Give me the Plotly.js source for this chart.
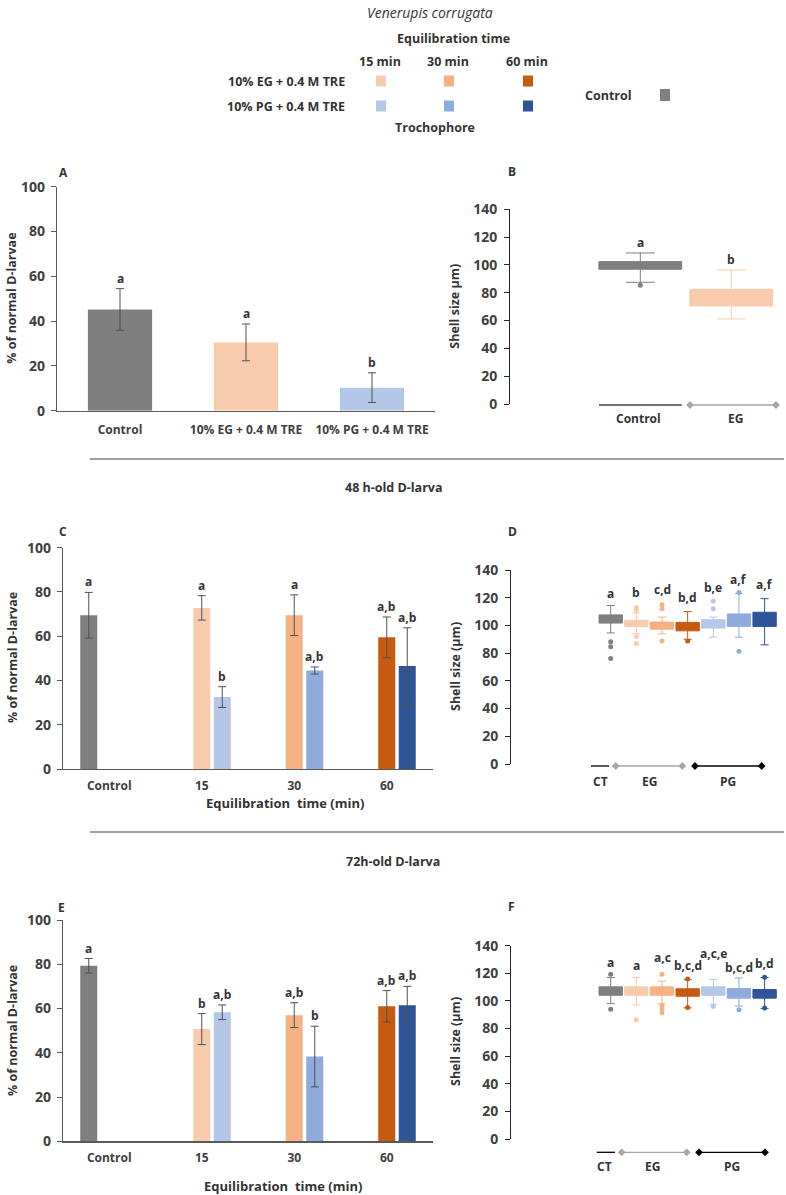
<!DOCTYPE html>
<html><head><meta charset="utf-8">
<script src="https://cdn.plot.ly/plotly-3.0.1.min.js"></script>
<style>html,body{margin:0;padding:0;background:#fff;}#chart{width:786px;height:1195px;}</style>
</head><body><div id="chart"></div>
<script>
// ================= DATA =================
// Panel A – trochophore, % normal D-larvae
const trochoCats = ['Control', '10% EG + 0.4 M TRE', '10% PG + 0.4 M TRE'];
const trochoMean = [45.2, 30.5, 10.3];
const trochoErr = [9.3, 8.2, 6.6];
const trochoLetters = ['a', 'a', 'b'];

// Panels C / E – categories
const timeCats = ['Control', '15', '30', '60'];
const eqTimes = ['15', '30', '60'];

// Panel C – 48 h-old D-larva
const d48ControlMean = [69.5];
const d48ControlErr = [10.3];
const d48ControlLetters = ['a'];
const d48EGMean = [72.8, 69.5, 59.5];
const d48EGErr = [5.5, 9.2, 9.2];
const d48EGLetters = ['a', 'a', 'a,b'];
const d48PGMean = [32.5, 44.5, 46.5];
const d48PGErr = [4.7, 1.6, 17.3];
const d48PGLetters = ['b', 'a,b', 'a,b'];

// Panel E – 72 h-old D-larva
const d72ControlMean = [79.3];
const d72ControlErr = [3.3];
const d72ControlLetters = ['a'];
const d72EGMean = [50.7, 57.0, 61.0];
const d72EGErr = [7.0, 5.6, 7.1];
const d72EGLetters = ['b', 'a,b', 'a,b'];
const d72PGMean = [58.3, 38.3, 61.5];
const d72PGErr = [3.3, 13.7, 8.5];
const d72PGLetters = ['a,b', 'b', 'a,b'];

// Panel B – trochophore shell size (µm)
const shellBGroups = ['Control', 'EG'];
const shellBQ1 = [96.9, 70.5];
const shellBQ3 = [102.4, 82.5];
const shellBLow = [87.5, 61.2];
const shellBUp = [108.6, 96.4];
const shellBOut = [[85.4], []];
const shellBLetters = ['a', 'b'];

// Panel D – 48 h shell size (µm)
const shellGroups = ['CT', 'EG 15', 'EG 30', 'EG 60', 'PG 15', 'PG 30', 'PG 60'];
const shellDQ1 = [101.7, 99.3, 97.3, 96.1, 98.1, 99.3, 99.3];
const shellDQ3 = [107.6, 103.7, 102.4, 102.2, 104.1, 108.3, 109.5];
const shellDLow = [94.6, 94.0, 93.9, 90.0, 91.5, 91.5, 86.0];
const shellDUp = [114.4, 109.0, 106.0, 110.0, 106.0, 123.0, 119.3];
const shellDOut = [[88.3, 84.6, 76.1], [113, 111, 92, 87], [115, 112, 88.7], [88.8], [117.6, 112], [123.7, 81.3], []];
const shellDLetters = ['a', 'b', 'c,d', 'b,d', 'b,e', 'a,f', 'a,f'];

// Panel F – 72 h shell size (µm)
const shellFQ1 = [104.1, 104.1, 104.1, 103.4, 104.1, 102.0, 102.0];
const shellFQ3 = [110.2, 110.2, 110.2, 108.8, 110.2, 109.0, 108.3];
const shellFLow = [98.0, 97.0, 98.0, 95.0, 97.6, 96.3, 94.6];
const shellFUp = [117.0, 117.0, 114.4, 115.6, 115.6, 116.6, 117.0];
const shellFOut = [[119.3, 94.0], [86.3], [119.3, 96.5, 94.0, 91.5], [115.8, 95.2], [96.0], [93.7], [117.2, 94.8]];
const shellFLetters = ['a', 'a', 'a,c', 'b,c,d', 'a,c,e', 'b,c,d', 'b,d'];

// ================= STYLE =================
const W = 786, H = 1195;
const GRAY = '#7f7f7f';
const EG_COL = ['#f8cbad', '#f4b183', '#c55a11'];
const PG_COL = ['#b4c7e7', '#8faadc', '#2f5597'];
const BOX_COL = [GRAY].concat(EG_COL, PG_COL);
const FONT = 'Open Sans, sans-serif';
const TXT = '#333333';
const px = v => v / W;
const py = v => 1 - v / H;
// pixel lift of significance letters (placement style, as in the original figure)
const liftB = [0, 0];
const liftD = [1, 4, 5, 4, 3, 3, 4];
const liftF = [1, 1, 6, 3, 15, 0, 3];

const traces = [];
const ann = [];
const shapes = [];

function errObj(arr) {
  return {type: 'data', array: arr, visible: true, color: '#505050', thickness: 1, width: 4};
}
function letterAnn(x, y, text, xa, ya, shift) {
  ann.push({x: x, y: y, xref: xa, yref: ya, text: text, showarrow: false, yanchor: 'bottom',
    yshift: shift || 0, font: {family: FONT, size: 12, color: TXT, weight: 'bold'}});
}

// ----- Panel A -----
traces.push({type: 'bar', x: trochoCats, y: trochoMean, error_y: errObj(trochoErr),
  marker: {color: [GRAY, EG_COL[0], PG_COL[0]]}, width: 0.51, xaxis: 'x', yaxis: 'y', hoverinfo: 'skip'});
trochoMean.forEach((m, i) => letterAnn(i, m + trochoErr[i], trochoLetters[i], 'x', 'y', 0));

// ----- Panels C & E (grouped bars) -----
const BARGAP = 0.335, GROUPGAP = 0.17;
const slot = (1 - BARGAP) / 3;
function groupedPanel(cm, ce, cl, em, ee, el, pm, pe, pl, xa, ya) {
  traces.push({type: 'bar', x: ['Control'], y: cm, error_y: errObj(ce), marker: {color: GRAY},
    xaxis: xa, yaxis: ya, hoverinfo: 'skip'});
  traces.push({type: 'bar', x: eqTimes, y: em, error_y: errObj(ee), marker: {color: EG_COL},
    xaxis: xa, yaxis: ya, hoverinfo: 'skip'});
  traces.push({type: 'bar', x: eqTimes, y: pm, error_y: errObj(pe), marker: {color: PG_COL},
    xaxis: xa, yaxis: ya, hoverinfo: 'skip'});
  letterAnn(0 - slot, cm[0] + ce[0], cl[0], xa, ya, 0);
  eqTimes.forEach((t, i) => {
    letterAnn(i + 1, em[i] + ee[i], el[i], xa, ya, 0);
    letterAnn(i + 1 + slot, pm[i] + pe[i], pl[i], xa, ya, 0);
  });
}
groupedPanel(d48ControlMean, d48ControlErr, d48ControlLetters, d48EGMean, d48EGErr, d48EGLetters,
  d48PGMean, d48PGErr, d48PGLetters, 'x3', 'y3');
groupedPanel(d72ControlMean, d72ControlErr, d72ControlLetters, d72EGMean, d72EGErr, d72EGLetters,
  d72PGMean, d72PGErr, d72PGLetters, 'x5', 'y5');

// ----- Box panels B, D, F -----
function boxPanel(q1, q3, lo, up, outl, letters, lift, colors, xa, ya) {
  for (let i = 0; i < q1.length; i++) {
    traces.push({type: 'box', x: [i], q1: [q1[i]], q3: [q3[i]], median: [(q1[i] + q3[i]) / 2],
      lowerfence: [lo[i]], upperfence: [up[i]], width: 0.91, whiskerwidth: 0.35,
      fillcolor: colors[i], line: {color: colors[i], width: 1}, boxpoints: false,
      xaxis: xa, yaxis: ya, hoverinfo: 'skip'});
    if (outl[i].length) {
      traces.push({type: 'scatter', mode: 'markers', x: outl[i].map(() => i), y: outl[i],
        marker: {color: colors[i], size: 5}, xaxis: xa, yaxis: ya, cliponaxis: false, hoverinfo: 'skip'});
    }
    const top = Math.max(up[i], ...outl[i]);
    letterAnn(i, top, letters[i], xa, ya, lift[i]);
  }
}
boxPanel(shellBQ1, shellBQ3, shellBLow, shellBUp, shellBOut, shellBLetters, liftB, [GRAY, EG_COL[0]], 'x2', 'y2');
boxPanel(shellDQ1, shellDQ3, shellDLow, shellDUp, shellDOut, shellDLetters, liftD, BOX_COL, 'x4', 'y4');
boxPanel(shellFQ1, shellFQ3, shellFLow, shellFUp, shellFOut, shellFLetters, liftF, BOX_COL, 'x6', 'y6');

// ----- Page-level decorations on an overlay pixel axis (x7/y7) -----
function txt(x, y, text, opt) {
  opt = opt || {};
  ann.push({x: x, y: y, xref: 'x7', yref: 'y7', text: text, showarrow: false,
    xanchor: opt.xanchor || 'center', yanchor: 'middle', textangle: opt.angle || 0,
    font: {family: FONT, size: opt.size || 12, color: opt.color || TXT,
      weight: opt.weight || 'bold', style: opt.style || 'normal'}});
}
function rect(cx, cy, w, h, color) {
  shapes.push({type: 'rect', xref: 'x7', yref: 'y7', x0: cx - w / 2, x1: cx + w / 2, y0: cy - h / 2, y1: cy + h / 2,
    fillcolor: color, line: {width: 0}});
}
function hline(x0, x1, y, color, w) {
  shapes.push({type: 'line', xref: 'x7', yref: 'y7', x0: x0, x1: x1, y0: y, y1: y, line: {color: color, width: w || 1}});
}
function groupLine(x0, x1, y, color, diamonds) {
  traces.push({type: 'scatter', mode: diamonds ? 'lines+markers' : 'lines', x: [x0, x1], y: [y, y],
    line: {color: color, width: 1.3}, marker: {symbol: 'diamond', size: 6, color: color},
    xaxis: 'x7', yaxis: 'y7', hoverinfo: 'skip', cliponaxis: false});
}

// header
txt(430, 12, 'Venerupis corrugata', {style: 'italic', weight: 'normal', size: 14});
txt(453, 38, 'Equilibration time', {size: 12.5});
txt(380, 61, '15 min', {size: 12.5});
txt(448, 61, '30 min', {size: 12.5});
txt(527, 61, '60 min', {size: 12.5});
txt(347, 81, '10% EG + 0.4 M TRE', {xanchor: 'right', size: 12.5});
txt(347, 106, '10% PG + 0.4 M TRE', {xanchor: 'right', size: 12.5});
[381, 449, 528].forEach((x, i) => { rect(x, 81, 10, 11, EG_COL[i]); rect(x, 106, 10, 11, PG_COL[i]); });
txt(608, 95, 'Control', {size: 12.5});
rect(665, 95, 10, 12, GRAY);
txt(435, 127, 'Trochophore', {size: 12.5});

// panel letters
txt(63, 172, 'A'); txt(512, 171, 'B'); txt(63, 531, 'C'); txt(512, 531, 'D'); txt(61, 907, 'E'); txt(511, 906, 'F');

// separators & section titles
hline(90, 784, 459, '#404040', 1.2);
hline(90, 784, 832, '#404040', 1.2);
txt(393, 487, '48 h-old D-larva', {size: 12.5});
txt(393, 861, '72h-old D-larva', {size: 12.5});

// axis titles
txt(12, 298.7, '% of normal D-larvae', {angle: -90, size: 12.5});
txt(12, 658, '% of normal D-larvae', {angle: -90, size: 12.5});
txt(12, 1031, '% of normal D-larvae', {angle: -90, size: 12.5});
txt(455, 306.7, 'Shell size µm)', {angle: -90, size: 12.5});
txt(455, 667, 'Shell size (µm)', {angle: -90, size: 12.5});
txt(455, 1042, 'Shell size (µm)', {angle: -90, size: 12.5});
txt(285, 803, 'Equilibration  time (min)', {size: 13});
txt(283, 1186, 'Equilibration  time (min)', {size: 13});

// group lines under box panels
groupLine(599, 681.7, 405, '#404040', false);
groupLine(690, 776, 405, '#a6a6a6', true);
txt(638, 418, 'Control'); txt(735, 418, 'EG');
groupLine(591, 609, 766, '#000000', false);
groupLine(615.7, 682.3, 766, '#a6a6a6', true);
groupLine(695, 761.7, 766, '#000000', true);
txt(600, 781, 'CT'); txt(649, 781, 'EG'); txt(728, 781, 'PG');
groupLine(596.7, 615, 1152.3, '#000000', false);
groupLine(621.7, 686.7, 1152.3, '#a6a6a6', true);
groupLine(699, 765, 1152.3, '#000000', true);
txt(604, 1166, 'CT'); txt(652.7, 1166, 'EG'); txt(731.7, 1166, 'PG');

// ================= AXES =================
const tickFontY = {family: FONT, size: 14, color: '#404040', weight: 'bold'};
const tickFontX = {family: FONT, size: 12, color: '#404040', weight: 'bold'};
function pctY(top, bottom, anchor) {
  return {domain: [py(bottom), py(top)], anchor: anchor, range: [0, 100], tickvals: [0, 20, 40, 60, 80, 100],
    ticks: 'outside', ticklen: 5, tickcolor: '#595959', showline: true, linecolor: '#595959', linewidth: 1.3,
    showgrid: false, zeroline: false, tickfont: tickFontY, ticklabelstandoff: 3, fixedrange: true};
}
function catX(left, right, anchor, cats, standoff) {
  return {domain: [px(left), px(right)], anchor: anchor, type: 'category', categoryorder: 'array',
    categoryarray: cats, range: [-0.5, cats.length - 0.5], ticks: '', showline: true, linecolor: '#595959',
    linewidth: 1.3, showgrid: false, zeroline: false, tickfont: tickFontX, ticklabelstandoff: standoff, fixedrange: true};
}
function shellY(top, bottom, anchor) {
  return {domain: [py(bottom), py(top)], anchor: anchor, range: [0, 140], tickvals: [0, 20, 40, 60, 80, 100, 120, 140],
    ticks: 'outside', ticklen: 5, tickcolor: '#262626', showline: true, linecolor: '#262626', linewidth: 1,
    showgrid: false, zeroline: false, tickfont: tickFontY, ticklabelstandoff: 4, fixedrange: true};
}
function boxX(left, right, anchor, firstCenter, step) {
  return {domain: [px(left), px(right)], anchor: anchor, range: [-(firstCenter - left) / step, (right - firstCenter) / step],
    visible: false, showgrid: false, zeroline: false, fixedrange: true};
}

const layout = {
  width: W, height: H, margin: {l: 0, r: 0, t: 0, b: 0}, paper_bgcolor: '#ffffff', plot_bgcolor: 'rgba(0,0,0,0)',
  showlegend: false, barmode: 'group', bargap: BARGAP, bargroupgap: GROUPGAP, boxmode: 'overlay',
  font: {family: FONT, color: TXT},
  xaxis: catX(57, 435, 'y', trochoCats, 8),
  yaxis: pctY(186.7, 410.7, 'x'),
  xaxis2: boxX(510, 780, 'y2', 640.3, 91),
  yaxis2: shellY(209.3, 404, 'x2'),
  xaxis3: catX(63, 433, 'y3', timeCats, 5),
  yaxis3: pctY(547.7, 769, 'x3'),
  xaxis4: boxX(511, 780, 'y4', 610.7, 25.65),
  yaxis4: shellY(570, 764, 'x4'),
  xaxis5: catX(63, 433, 'y5', timeCats, 5),
  yaxis5: pctY(920, 1141.3, 'x5'),
  xaxis6: boxX(511, 780, 'y6', 610.7, 25.65),
  yaxis6: shellY(945.7, 1139, 'x6'),
  xaxis7: {domain: [0, 1], anchor: 'y7', range: [0, W], visible: false, fixedrange: true},
  yaxis7: {domain: [0, 1], anchor: 'x7', range: [H, 0], visible: false, fixedrange: true},
  annotations: ann,
  shapes: shapes
};

Plotly.newPlot('chart', traces, layout, {staticPlot: true, displayModeBar: false});
</script>
</body></html>
